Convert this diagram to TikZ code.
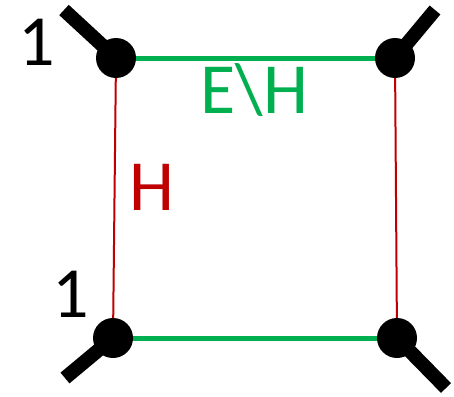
\documentclass[tikz,border=0pt]{standalone}
\usepackage{fontspec}
\setmainfont{Carlito}
\usetikzlibrary{positioning}
\definecolor{EdgeGreen}{HTML}{00B050}
\definecolor{EdgeRed}{HTML}{C00000}

\begin{document}
\begin{tikzpicture}[
  x=1pt, y=-1pt,
  vertex/.style={circle, fill=black, inner sep=0pt, minimum size=40pt},
  stub/.style={line width=14pt, line cap=butt},
  greenedge/.style={draw=EdgeGreen, line width=5pt},
  rededge/.style={draw=EdgeRed, line width=2pt},
  lbl/.style={font=\fontsize{72}{72}\selectfont, anchor=base, inner sep=0pt}
]
  \useasboundingbox (0,0) rectangle (454,396);

  % free ends of the legs
  \coordinate (tlend) at (64,10);
  \coordinate (trend) at (435,10);
  \coordinate (blend) at (65,378);
  \coordinate (brend) at (446,388);

  \coordinate (tl) at (116,58);
  \coordinate (tr) at (395,58);
  \coordinate (bl) at (113,338);
  \coordinate (br) at (397,338);

  \draw[greenedge] (tl) -- (tr);
  \draw[greenedge] (bl) -- (br);
  \draw[rededge] (tl) -- (bl);
  \draw[rededge] (tr) -- (br);

  \draw[stub] (tl) -- (tlend);
  \draw[stub] (tr) -- (trend);
  \draw[stub] (bl) -- (blend);
  \draw[stub] (br) -- (brend);

  \node[vertex] (vtl) at (tl) {};
  \node[vertex] (vtr) at (tr) {};
  \node[vertex] (vbl) at (bl) {};
  \node[vertex] (vbr) at (br) {};

  \node[lbl] (onetop) at (37,65) {1};
  \node[lbl] (onebot) at (71,317) {1};
  \node[lbl, text=EdgeRed] (hlbl) at (152,210) {H};
  \node[lbl, text=EdgeGreen] (ehlbl) at (254,113) {E\textbackslash H};
\end{tikzpicture}
\end{document}
